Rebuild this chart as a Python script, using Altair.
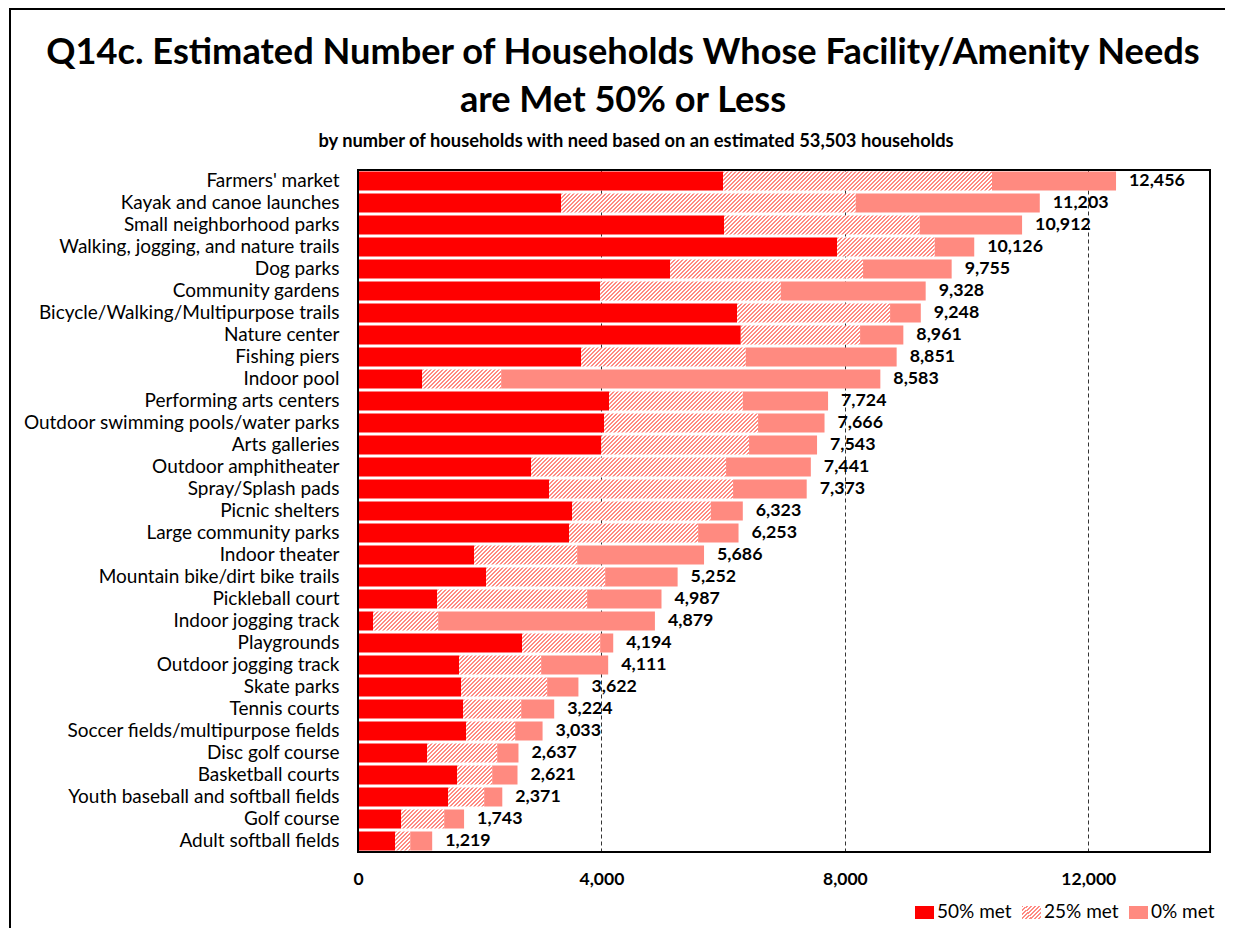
import altair as alt

# ---------------- data ----------------
categories = [
    "Farmers' market", "Kayak and canoe launches", "Small neighborhood parks",
    "Walking, jogging, and nature trails", "Dog parks", "Community gardens",
    "Bicycle/Walking/Multipurpose trails", "Nature center", "Fishing piers",
    "Indoor pool", "Performing arts centers", "Outdoor swimming pools/water parks",
    "Arts galleries", "Outdoor amphitheater", "Spray/Splash pads", "Picnic shelters",
    "Large community parks", "Indoor theater", "Mountain bike/dirt bike trails",
    "Pickleball court", "Indoor jogging track", "Playgrounds", "Outdoor jogging track",
    "Skate parks", "Tennis courts", "Soccer fields/multipurpose fields",
    "Disc golf course", "Basketball courts", "Youth baseball and softball fields",
    "Golf course", "Adult softball fields",
]
met50 = [5999, 3338, 6016, 7872, 5129, 3979, 6229, 6290, 3667, 1055, 4126, 4044, 3995,
         2845, 3141, 3519, 3469, 1909, 2106, 1301, 250, 2697, 1662, 1695, 1728, 1777,
         1137, 1630, 1482, 710, 611]
met25 = [4419, 4841, 3214, 1605, 3170, 2968, 2514, 1960, 2705, 1297, 2197, 2530, 2431,
         3203, 3022, 2278, 2120, 1692, 1955, 2464, 1067, 1282, 1347, 1413, 953, 805,
         1150, 575, 591, 706, 247]
met0 = [2038, 3024, 1682, 649, 1456, 2381, 505, 711, 2479, 6231, 1401, 1092, 1117,
        1393, 1210, 526, 664, 2085, 1191, 1222, 3562, 215, 1102, 514, 543, 451,
        350, 416, 298, 327, 361]
series_names = ["50% met", "25% met", "0% met"]
x_ticks = [0, 4000, 8000, 12000]
title_lines = [
    "Q14c. Estimated Number of Households Whose Facility/Amenity Needs",
    "are Met 50% or Less",
]
subtitle_text = "by number of households with need based on an estimated 53,503 households"

# ---------------- style ----------------
RED = "#FF0000"
SALMON = "#FF8A80"
HATCH = "#FF8A82"
W, H = 852, 682
XMAX = 14000
BAR_H = 19
FONT = "Lato"


def hatch_fill(w, h, period=4.0, line=2.0):
    """Diagonal ('/') hatch as a hard-stop linear gradient with constant pixel spacing."""
    w = max(float(w), 1.0)
    span = w + h
    c = span * w / (w * w + h * h)
    stops = []
    pos = 0.0
    while pos < span - 1e-9:
        a = round(pos / span, 5)
        b = round(min((pos + line) / span, 1.0), 5)
        d = round(min((pos + period) / span, 1.0), 5)
        stops += [
            {"offset": a, "color": HATCH},
            {"offset": b, "color": HATCH},
            {"offset": b, "color": "#FFFFFF"},
            {"offset": d, "color": "#FFFFFF"},
        ]
        pos += period
    return {"gradient": "linear", "x1": 0, "y1": 0,
            "x2": round(c, 5), "y2": round(c * h / w, 5), "stops": stops}


px_per_unit = W / XMAX
seg_rows = []
total_rows = []
for i, cat in enumerate(categories):
    start = 0
    for name, vals in zip(series_names, [met50, met25, met0]):
        v = vals[i]
        if name == "50% met":
            fill = RED
        elif name == "25% met":
            fill = hatch_fill(v * px_per_unit, BAR_H)
        else:
            fill = SALMON
        seg_rows.append({"category": cat, "series": name, "start": start,
                         "end": start + v, "fill": fill})
        start += v
    total_rows.append({"category": cat, "total": start})

x_scale = alt.Scale(domain=[0, XMAX], nice=False, zero=True)
y_scale = alt.Scale(paddingInner=0.136, paddingOuter=0.068)
y_axis = alt.Axis(title=None, ticks=False, domain=False, labelFont=FONT,
                  labelFontSize=19, labelColor="black", labelPadding=19,
                  labelLimit=400)
x_axis = alt.Axis(title=None, values=x_ticks, labelExpr="format(datum.value, ',')",
                  ticks=False, domain=False, labelFont=FONT, labelFontSize=17.5,
                  labelFontWeight="bold", labelColor="black", labelFlush=False,
                  labelPadding=18, grid=True, gridColor="#333333",
                  gridDash=[4, 3], gridWidth=1)

bars = alt.Chart(alt.Data(values=seg_rows)).mark_bar().encode(
    y=alt.Y("category:N", sort=categories, scale=y_scale, axis=y_axis),
    x=alt.X("start:Q", scale=x_scale, axis=x_axis),
    x2="end:Q",
    fill=alt.Fill("fill:N", scale=None),
)

labels = alt.Chart(alt.Data(values=total_rows)).mark_text(
    align="left", baseline="middle", dx=13, font=FONT, fontSize=17.8,
    fontWeight="bold", color="black",
).encode(
    y=alt.Y("category:N", sort=categories, scale=y_scale, axis=y_axis),
    x=alt.X("total:Q", scale=x_scale, axis=x_axis),
    text=alt.Text("total:Q", format=","),
)

# plot-area border
plot_border = alt.Chart(alt.Data(values=[{"b": 1}])).mark_rect(
    fill="transparent", stroke="black", strokeWidth=2
).encode(x=alt.value(0), x2=alt.value(W), y=alt.value(0), y2=alt.value(H))

# title texts
title_layers = []
for line, ypos in zip(title_lines, [-117, -69]):
    title_layers.append(
        alt.Chart(alt.Data(values=[{"t": line}])).mark_text(
            font=FONT, fontSize=36.2, fontWeight="bold", align="center",
            baseline="middle", color="black",
        ).encode(text="t:N", x=alt.value(265), y=alt.value(ypos))
    )
title_layers.append(
    alt.Chart(alt.Data(values=[{"t": subtitle_text}])).mark_text(
        font=FONT, fontSize=18.3, fontWeight="bold", align="center",
        baseline="middle", color="black",
    ).encode(text="t:N", x=alt.value(278), y=alt.value(-28))
)

# custom legend (bottom right)
legend_layers = []
swatch_x = [557, 664, 771]
swatch_fills = [RED, hatch_fill(19, 13), SALMON]
for name, sx, sf in zip(series_names, swatch_x, swatch_fills):
    legend_layers.append(
        alt.Chart(alt.Data(values=[{"s": name}])).mark_rect(fill=sf).encode(
            x=alt.value(sx), x2=alt.value(sx + 19), y=alt.value(736), y2=alt.value(749)
        )
    )
    legend_layers.append(
        alt.Chart(alt.Data(values=[{"s": name}])).mark_text(
            font=FONT, fontSize=19, align="left", baseline="middle", color="black"
        ).encode(text="s:N", x=alt.value(sx + 22), y=alt.value(742))
    )

# outer frame: only its top and left edges fall inside the picture
frame_top = alt.Chart(alt.Data(values=[{"f": 1}])).mark_rule(
    color="black", strokeWidth=2
).encode(x=alt.value(-349), x2=alt.value(W + 200), y=alt.value(-161))
frame_left = alt.Chart(alt.Data(values=[{"f": 1}])).mark_rule(
    color="black", strokeWidth=2
).encode(x=alt.value(-348), y=alt.value(-161), y2=alt.value(H + 200))

chart = alt.layer(bars, labels, plot_border, *title_layers, *legend_layers,
                  frame_top, frame_left).properties(
    width=W, height=H,
    padding={"left": 350, "top": 162, "right": 15, "bottom": 76},
    autosize=alt.AutoSizeParams(type="none"),
    background="white",
).configure_view(stroke="transparent", strokeWidth=0)

chart.save("out.html", embed_options={"renderer": "svg", "actions": False})
